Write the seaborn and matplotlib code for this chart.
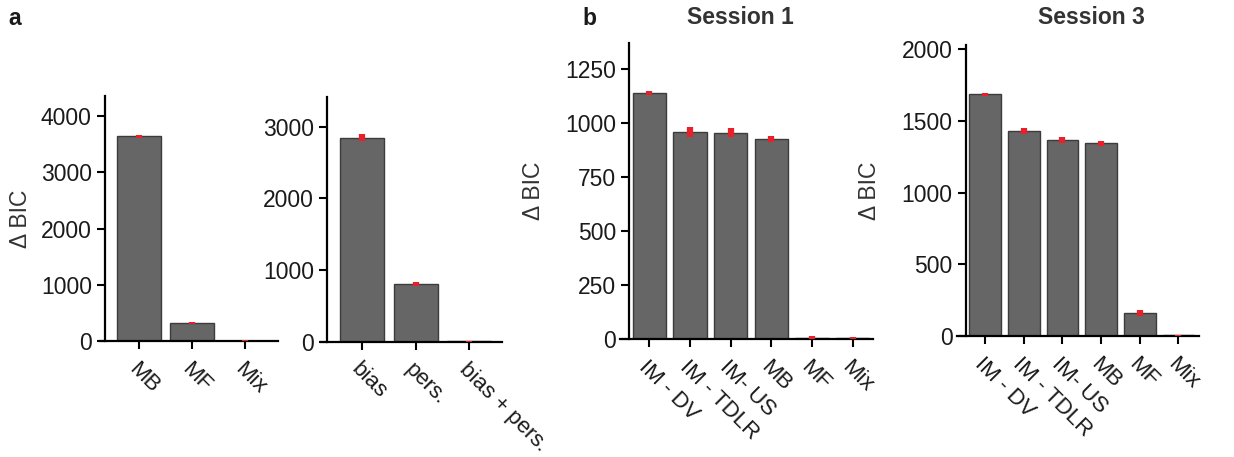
import matplotlib
matplotlib.use('Agg')
import matplotlib.pyplot as plt
import seaborn as sns
import numpy as np
import pandas as pd

# ---------------- data ----------------
a1_models = ['MB', 'MF', 'Mix']
a1_values = [3640, 320, 5]
a1_errors = [25, 20, 8]

a2_models = ['bias', 'pers.', 'bias + pers.']
a2_values = [2845, 805, 5]
a2_errors = [45, 25, 8]

b_models = ['IM - DV', 'IM - TDLR', 'IM- US', 'MB', 'MF', 'Mix']
s1_values = [1140, 958, 955, 926, 6, 4]
s1_errors = [8, 23, 21, 15, 8, 6]
s3_values = [1686, 1432, 1367, 1344, 163, 5]
s3_errors = [8, 22, 19, 20, 21, 5]

a1_ticks = [0, 1000, 2000, 3000, 4000]
a2_ticks = [0, 1000, 2000, 3000]
s1_ticks = [0, 250, 500, 750, 1000, 1250]
s3_ticks = [0, 500, 1000, 1500, 2000]

# ---------------- style ----------------
sns.set_style('ticks')
plt.rcParams['font.family'] = ['Liberation Sans', 'DejaVu Sans']
TXT = '#1a1a1a'
FS = 16.5
XFS = 16

W, H = 1234, 457
fig = plt.figure(figsize=(W / 100, H / 100), dpi=100)


def rect(l, r, b, t):
    return [l / W, 1 - b / H, (r - l) / W, (b - t) / H]


def panel(box, cats, vals, errs, ymax, yticks, xlim, spine_frac, ylabel, label_x):
    ax = fig.add_axes(box)
    df = pd.DataFrame({'model': cats, 'dbic': vals})
    sns.barplot(data=df, x='model', y='dbic', color='#666666', saturation=1,
                edgecolor='#3c3c3c', linewidth=1.0, width=0.82, errorbar=None, ax=ax)
    ax.errorbar(np.arange(len(cats)), vals, yerr=errs, fmt='none',
                ecolor='#e8202a', elinewidth=4.5, capsize=0, zorder=5)
    ax.set_xlim(*xlim)
    ax.set_ylim(0, ymax)
    ax.set_yticks(yticks)
    ax.set_xlabel('')
    sns.despine(ax=ax)
    ax.spines['left'].set_position(('axes', spine_frac))
    for s in ('left', 'bottom'):
        ax.spines[s].set_linewidth(1.6)
        ax.spines[s].set_color('black')
    ax.tick_params(axis='both', length=5.5, width=1.5, labelcolor=TXT, color='black')
    ax.tick_params(axis='y', pad=4, labelsize=FS)
    ax.tick_params(axis='x', pad=7, labelsize=XFS)
    for lbl in ax.get_xticklabels():
        lbl.set_rotation(-45)
        lbl.set_ha('left')
        lbl.set_va('top')
        lbl.set_rotation_mode('anchor')
    if ylabel:
        ax.set_ylabel('Δ BIC', fontsize=FS, color='#333333')
        ax.yaxis.set_label_coords(label_x, 0.5)
    else:
        ax.set_ylabel('')
    ax.set_facecolor('none')
    return ax


panel(rect(100, 278, 341, 96), a1_models, a1_values, a1_errors, 4360, a1_ticks,
      (-0.736, 2.623), 5 / 178, True, -0.382)
panel(rect(321, 502, 341.7, 97), a2_models, a2_values, a2_errors, 3413, a2_ticks,
      (-0.772, 2.61), 6.3 / 181, False, 0)
panel(rect(620, 873.3, 339.3, 42.7), b_models, s1_values, s1_errors, 1372, s1_ticks,
      (-0.72, 5.51), 9.3 / 253.3, True, -0.296)
panel(rect(957, 1199.3, 336, 45), b_models, s3_values, s3_errors, 2031, s3_ticks,
      (-0.724, 5.54), 8.7 / 242.3, True, -0.313)

fig.text(8 / W, 1 - 25 / H, 'a', fontsize=FS, fontweight='bold', color=TXT, va='baseline')
fig.text(582 / W, 1 - 25 / H, 'b', fontsize=FS, fontweight='bold', color=TXT, va='baseline')
fig.text(740 / W, 1 - 24 / H, 'Session 1', fontsize=FS, fontweight='bold', color='#333333',
         ha='center', va='baseline')
fig.text(1091.7 / W, 1 - 24 / H, 'Session 3', fontsize=FS, fontweight='bold', color='#333333',
         ha='center', va='baseline')

fig.savefig('out.png', dpi=100, facecolor='white')
